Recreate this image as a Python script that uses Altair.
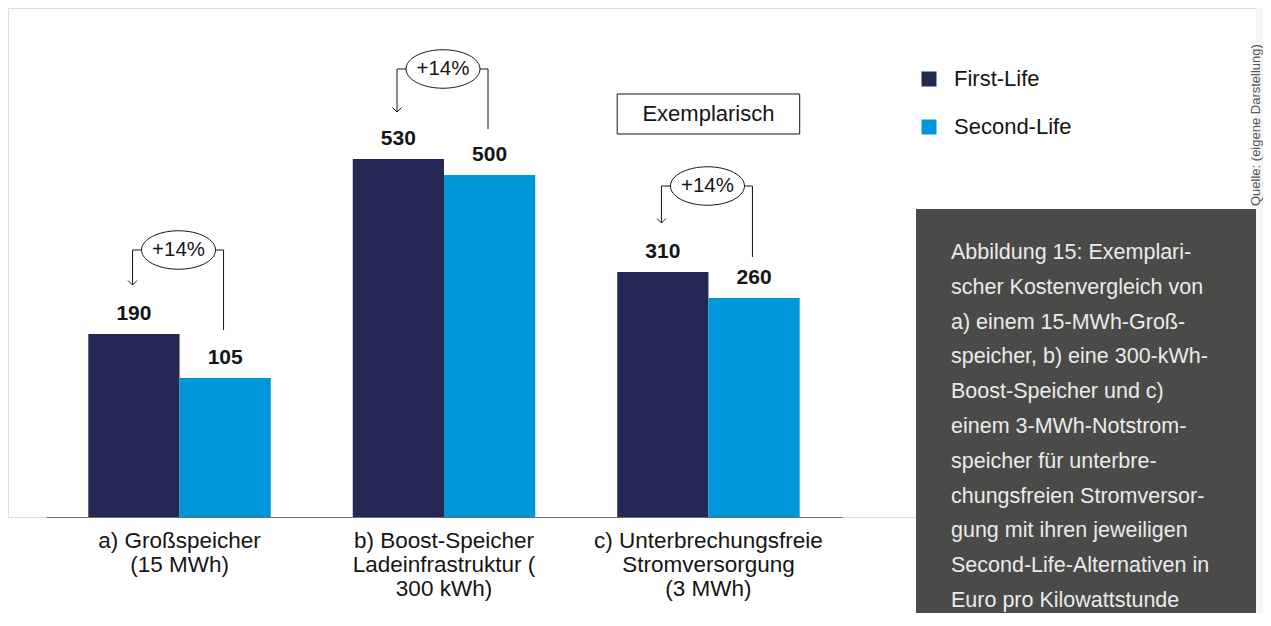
import math
import altair as alt
import pandas as pd

# ---------------- data ----------------
categories = [
    "a) Großspeicher|(15 MWh)",
    "b) Boost-Speicher|Ladeinfrastruktur (|300 kWh)",
    "c) Unterbrechungsfreie|Stromversorgung|(3 MWh)",
]
series = ["First-Life", "Second-Life"]
colors = ["#242855", "#0096da"]

label_first = [190, 530, 310]
label_second = [105, 500, 260]
# drawn bar heights (the chart is "exemplarisch": heights are not proportional to the labels)
height_first = [183, 358, 245]
height_second = [139, 342, 219]

ann_text = ["+14%", "+14%", "+14%"]
ann_level = [267, 448, 331]       # ellipse / connector level
ann_left_end = [232, 405, 294]    # arrow tip (towards First-Life)
ann_right_end = [187, 388, 260]   # line end (towards Second-Life)

box_text = ["Exemplarisch"]
box_category = [categories[2]]
box_low = [383]
box_high = [423]

caption_lines = [
    "Abbildung 15: Exemplari-",
    "scher Kostenvergleich von",
    "a) einem 15-MWh-Groß-",
    "speicher, b) eine 300-kWh-",
    "Boost-Speicher und c)",
    "einem 3-MWh-Notstrom-",
    "speicher für unterbre-",
    "chungsfreien Stromversor-",
    "gung mit ihren jeweiligen",
    "Second-Life-Alternativen in",
    "Euro pro Kilowattstunde",
]
source_text = "Quelle: (eigene Darstellung)"

# ---------------- tables ----------------
bars = pd.DataFrame({
    "cat": categories * 2,
    "series": [series[0]] * 3 + [series[1]] * 3,
    "height": height_first + height_second,
    "label": label_first + label_second,
})
ann = pd.DataFrame({
    "cat": categories,
    "pct": ann_text,
    "level": ann_level,
    "left_end": ann_left_end,
    "right_end": ann_right_end,
})
box = pd.DataFrame({"cat": box_category, "low": box_low, "high": box_high,
                    "mid": [(a + b) / 2 for a, b in zip(box_low, box_high)],
                    "text": box_text})
one = pd.DataFrame({"k": [0]})

FONT = "Liberation Sans"
INK = "#151515"

xscale = alt.Scale(domain=categories, range=[38, 834], paddingInner=0.31, paddingOuter=0.16)
yscale = alt.Scale(domain=[0, 509])
xaxis = alt.Axis(
    title=None, labelAngle=0, ticks=False, labelExpr="split(datum.value, '|')",
    labelFontSize=22.5, labelLineHeight=24, labelPadding=12, labelColor=INK,
    labelFont=FONT, labelLimit=0, domainColor="#6e6e6e", domainWidth=1,
    grid=False,
)
X = alt.X("cat:N", scale=xscale, axis=xaxis, sort=categories)
XO = alt.XOffset("series:N", scale=alt.Scale(domain=series, paddingInner=0, paddingOuter=0))

def Y(field):
    return alt.Y(f"{field}:Q", scale=yscale, axis=None)

bar_layer = alt.Chart(bars).mark_bar().encode(
    x=X, xOffset=XO, y=Y("height"),
    color=alt.Color("series:N", scale=alt.Scale(domain=series, range=colors),
                    legend=alt.Legend(title=None, orient="none", legendX=910, legendY=60,
                                      symbolType="square", symbolSize=225, symbolStrokeWidth=0,
                                      labelFontSize=22, labelFont=FONT, labelColor=INK,
                                      rowPadding=26, labelOffset=14, direction="vertical",
                                      padding=0)),
)
value_labels = alt.Chart(bars).mark_text(
    fontWeight="bold", fontSize=21, dy=-14, baseline="alphabetic", color=INK, font=FONT
).encode(x=X, xOffset=XO, y=Y("height"), text="label:N")

# ellipse symbol path
pts = []
for i in range(64):
    t = 2 * math.pi * i / 64
    pts.append(f"{math.cos(t):.4f} {0.52 * math.sin(t):.4f}")
ellipse_path = "M " + " L ".join(pts) + " Z"

ellipse = alt.Chart(ann).mark_point(
    shape=ellipse_path, size=74 ** 2, filled=True, fill="white", stroke=INK,
    strokeWidth=1, opacity=1, xOffset=-1
).encode(x=X, y=Y("level"))
pct_text = alt.Chart(ann).mark_text(
    fontSize=20.5, baseline="middle", color=INK, font=FONT, xOffset=-1
).encode(x=X, y=Y("level"), text="pct:N")
left_h = alt.Chart(ann).mark_tick(size=9, thickness=1, xOffset=-42.5, color=INK, opacity=1).encode(
    x=X, y=Y("level"))
right_h = alt.Chart(ann).mark_tick(size=8, thickness=1, xOffset=40, color=INK, opacity=1).encode(
    x=X, y=Y("level"))
left_v = alt.Chart(ann).mark_rule(xOffset=-47, strokeWidth=1, color=INK).encode(
    x=X, y=Y("level"), y2="left_end:Q")
right_v = alt.Chart(ann).mark_rule(xOffset=44, strokeWidth=1, color=INK).encode(
    x=X, y=Y("level"), y2="right_end:Q")
arrow = alt.Chart(ann).mark_point(
    shape="M -1 -1 L 0 0 L 1 -1", size=81, filled=False, stroke=INK, strokeWidth=1,
    opacity=1, xOffset=-47
).encode(x=X, y=Y("left_end"))

box_rect = alt.Chart(box).mark_rect(fill="white", stroke=INK, strokeWidth=1).encode(
    x=X, y=Y("low"), y2="high:Q")
box_label = alt.Chart(box).mark_text(fontSize=22, baseline="middle", color=INK, font=FONT).encode(
    x=X, y=Y("mid"), text="text:N")

caption_bg = alt.Chart(one).mark_rect(fill="#4a4a48").encode(
    x=alt.value(908), x2=alt.value(1248), y=alt.value(201), y2=alt.value(605))
caption = alt.Chart(one).mark_text(
    align="left", baseline="alphabetic", fontSize=21.5, lineHeight=34.8, lineBreak="\n",
    color="#ebebeb", font=FONT
).encode(x=alt.value(943), y=alt.value(251), text=alt.value("\n".join(caption_lines)))
strip = alt.Chart(one).mark_rect(fill="#f4f4f4").encode(
    x=alt.value(1248), x2=alt.value(1255), y=alt.value(0), y2=alt.value(605))
source = alt.Chart(one).mark_text(
    angle=270, align="left", baseline="middle", fontSize=13, color="#555555", font=FONT
).encode(x=alt.value(1248), y=alt.value(198), text=alt.value(source_text))

chart = alt.layer(
    strip, caption_bg, caption, source,
    bar_layer, value_labels,
    left_h, right_h, left_v, right_v, arrow, ellipse, pct_text,
    box_rect, box_label,
).properties(
    width=1255, height=509,
    padding={"left": 0, "top": 0, "right": 0, "bottom": 96},
    autosize=alt.AutoSizeParams(type="none"),
    background="white",
).configure_view(stroke=None).configure(font=FONT)

chart.save("out.html", embed_options={"renderer": "svg", "actions": False})
